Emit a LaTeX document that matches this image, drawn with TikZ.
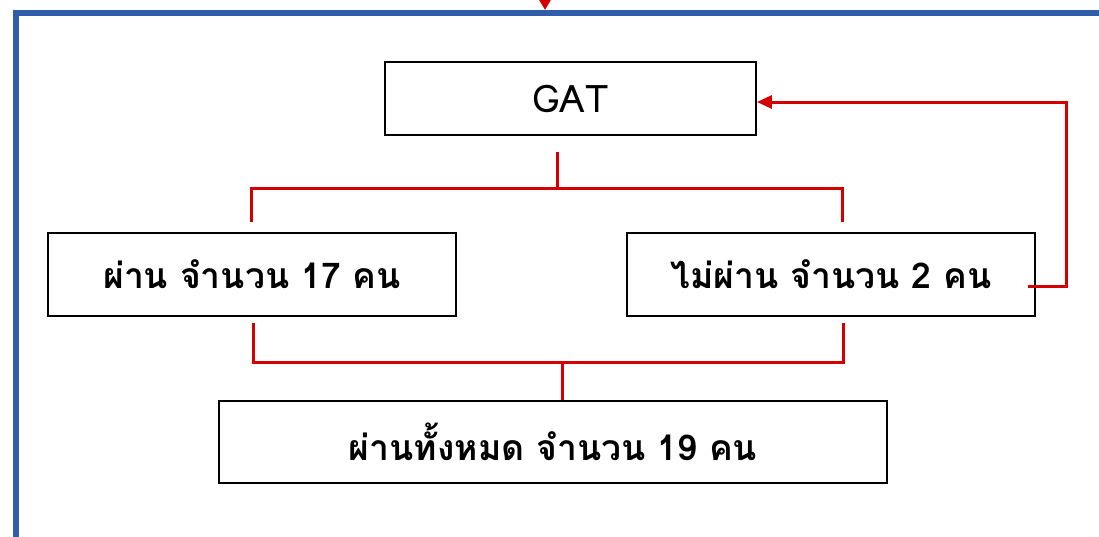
\documentclass[tikz,border=0pt]{standalone}
\usepackage{fontspec}
\usetikzlibrary{arrows.meta}
\newfontfamily\thaifont[Script=Thai]{Loma}
\definecolor{framblue}{HTML}{2F5DAA}
\definecolor{linkred}{HTML}{D40000}
\begin{document}
\begin{tikzpicture}[x=1pt,y=-1pt,
  box/.style={draw=black,line width=1.8pt,fill=white,inner sep=0pt,font=\thaifont\bfseries\fontsize{35.5}{40}\selectfont},
  link/.style={draw=linkred,line width=3pt},
  tip/.style={-{Triangle[length=15pt,width=13pt]}}]
\useasboundingbox (0,0) rectangle (1099,536);
\fill[white] (0,0) rectangle (1099,536);
% frame
\draw[framblue,line width=5.5pt] (16,540) -- (16,13) -- (1110,13);
\draw[linkred,line width=3pt,-{Triangle[length=10pt,width=11pt]}] (545,-12) -- (545,10);
% boxes
\node[box,minimum width=371pt,minimum height=73pt,font=\thaifont\fontsize{38}{42}\selectfont] (gat) at (570.5,98.5) {GAT};
\node[box,minimum width=408pt,minimum height=83pt] (pass) at (252,274.5) {ผ่าน จำนวน 17 คน};
\node[box,minimum width=408pt,minimum height=83pt] (fail) at (831,274.5) {ไม่ผ่าน จำนวน 2 คน};
\node[box,minimum width=668pt,minimum height=82pt] (total) at (553,442) {ผ่านทั้งหมด จำนวน 19 คน};
% upper split
\coordinate (a0) at (557,152);
\coordinate (a1) at (557,188);
\coordinate (aL) at (251,188);
\coordinate (aR) at (842,188);
\coordinate (aLe) at (251,222);
\coordinate (aRe) at (842,222);
\draw[link] (a0) -- (a1);
\draw[link] (aLe) -- (aL) -- (aR) -- (aRe);
% lower merge
\coordinate (bLs) at (253,323);
\coordinate (bRs) at (843,323);
\coordinate (bL) at (253,362);
\coordinate (bR) at (843,362);
\coordinate (b1) at (562,362);
\coordinate (b0) at (562,400);
\draw[link] (bLs) -- (bL) -- (bR) -- (bRs);
\draw[link] (b1) -- (b0);
% feedback
\coordinate (f0) at (1028,286);
\coordinate (f1) at (1066,286);
\coordinate (f2) at (1066,102);
\draw[link,tip] (f0) -- (f1) -- (f2) -- (gat.east |- f2);
\end{tikzpicture}
\end{document}
